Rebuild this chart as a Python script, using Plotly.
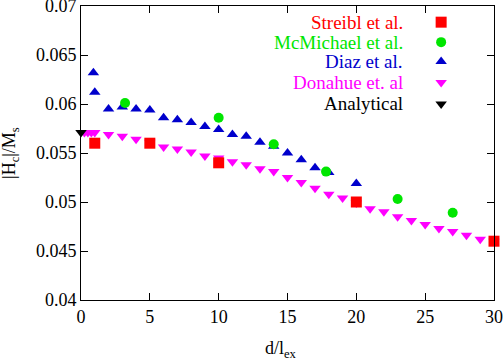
import plotly.graph_objects as go

# ---- data ----
streibl_x = [1, 5, 10, 20, 30]
streibl_y = [0.0560, 0.0560, 0.0540, 0.0500, 0.0460]

mcmichael_x = [3.2, 10, 14, 17.8, 23, 27]
mcmichael_y = [0.0601, 0.0586, 0.0559, 0.0531, 0.0503, 0.0489]

diaz_x = [0.9, 1, 2, 3, 4, 5, 6, 7, 8, 9, 10, 11, 12, 13, 14, 15, 16, 17, 18, 20]
diaz_y = [0.0632, 0.0612, 0.0595, 0.0597, 0.0595, 0.0594, 0.0586, 0.0584, 0.0581,
          0.0577, 0.0574, 0.0569, 0.0567, 0.0561, 0.0557, 0.0550, 0.0543, 0.0535,
          0.0530, 0.0519]

donahue_x = [0.25, 0.5, 0.75, 1, 2, 3, 4, 5, 6, 7, 8, 9, 10, 11, 12, 13, 14, 15,
             16, 17, 18, 19, 20, 21, 22, 23, 24, 25, 26, 27, 28, 29, 30]
donahue_y = [0.0571, 0.0571, 0.0571, 0.0571, 0.0569, 0.0567, 0.0564, 0.0561,
             0.0556, 0.0554, 0.0551, 0.0547, 0.0545, 0.0541, 0.0538, 0.0534,
             0.0531, 0.0525, 0.0520, 0.0514, 0.0508, 0.0504, 0.0499, 0.0493,
             0.0490, 0.0485, 0.0481, 0.0477, 0.0473, 0.0470, 0.0466, 0.0462,
             0.0460]

analytical_x = [0]
analytical_y = [0.0571]

series_names = ["Streibl et al.", "McMichael et al.", "Diaz et al.", "Donahue et. al", "Analytical"]

x_ticks = [0, 5, 10, 15, 20, 25, 30]
y_ticks = [0.04, 0.045, 0.05, 0.055, 0.06, 0.065, 0.07]
y_tick_labels = ["0.04", "0.045", "0.05", "0.055", "0.06", "0.065", "0.07"]

# ---- styles ----
colors = ["#ff0000", "#00e600", "#0000cc", "#ff00ff", "#000000"]
symbols = ["square", "circle", "triangle-up", "triangle-down", "triangle-down"]
sizes = [11, 10, 10, 10, 10]
FONT = "Liberation Serif, Times New Roman, serif"
FS = 18

fig = go.Figure()
data = [(streibl_x, streibl_y), (mcmichael_x, mcmichael_y), (diaz_x, diaz_y),
        (donahue_x, donahue_y), (analytical_x, analytical_y)]
order = [3, 2, 1, 0, 4]
for i in order:
    xs, ys = data[i]
    fig.add_trace(go.Scatter(x=xs, y=ys, mode="markers", name=series_names[i],
                             marker=dict(symbol=symbols[i], size=sizes[i], color=colors[i]),
                             showlegend=False, cliponaxis=False))

# custom legend (text right-aligned, symbol on right)
leg_y = [0.945, 0.877, 0.811, 0.740, 0.667]
leg_mx = 0.872
leg_tx = 0.785
for i, name in enumerate(series_names):
    fig.add_trace(go.Scatter(x=[leg_mx], y=[leg_y[i]], xaxis="x2", yaxis="y2",
                             mode="markers", showlegend=False,
                             marker=dict(symbol=symbols[i], size=sizes[i], color=colors[i])))
    fig.add_annotation(x=leg_tx, y=leg_y[i], xref="x2", yref="y2", text=name,
                       showarrow=False, xanchor="right", yanchor="middle",
                       font=dict(family=FONT, size=FS + 1, color=colors[i]))

axis_common = dict(showgrid=False, zeroline=False, showline=True, linecolor="black",
                   linewidth=1, mirror="ticks", ticks="inside", ticklen=7,
                   tickcolor="black", ticklabeloverflow="allow", automargin=False,
                   tickfont=dict(family=FONT, size=FS, color="black"))

fig.update_layout(
    width=504, height=361,
    margin=dict(l=81, r=10, t=6, b=61),
    paper_bgcolor="white", plot_bgcolor="white",
    showlegend=False,
    font=dict(family=FONT),
    xaxis=dict(range=[0, 30], tickvals=x_ticks, **axis_common),
    yaxis=dict(range=[0.04, 0.07], tickvals=y_ticks, ticktext=y_tick_labels, **axis_common),
    xaxis2=dict(range=[0, 1], overlaying="x", visible=False, anchor="y2"),
    yaxis2=dict(range=[0, 1], overlaying="y", visible=False, anchor="x2"),
)

fig.add_annotation(x=-0.172, y=0.5, xref="paper", yref="paper",
                   text="|H<sub>c</sub>|/M<sub>s</sub>", textangle=-90, showarrow=False,
                   xanchor="center", yanchor="middle",
                   font=dict(family=FONT, size=FS, color="black"))
fig.add_annotation(x=0.484, y=-0.17, xref="paper", yref="paper",
                   text="d/l<sub>ex</sub>", showarrow=False,
                   xanchor="center", yanchor="middle",
                   font=dict(family=FONT, size=FS, color="black"))

fig.write_html("out.html", config={"displayModeBar": False},
               post_script="document.body.style.margin='0px';")
